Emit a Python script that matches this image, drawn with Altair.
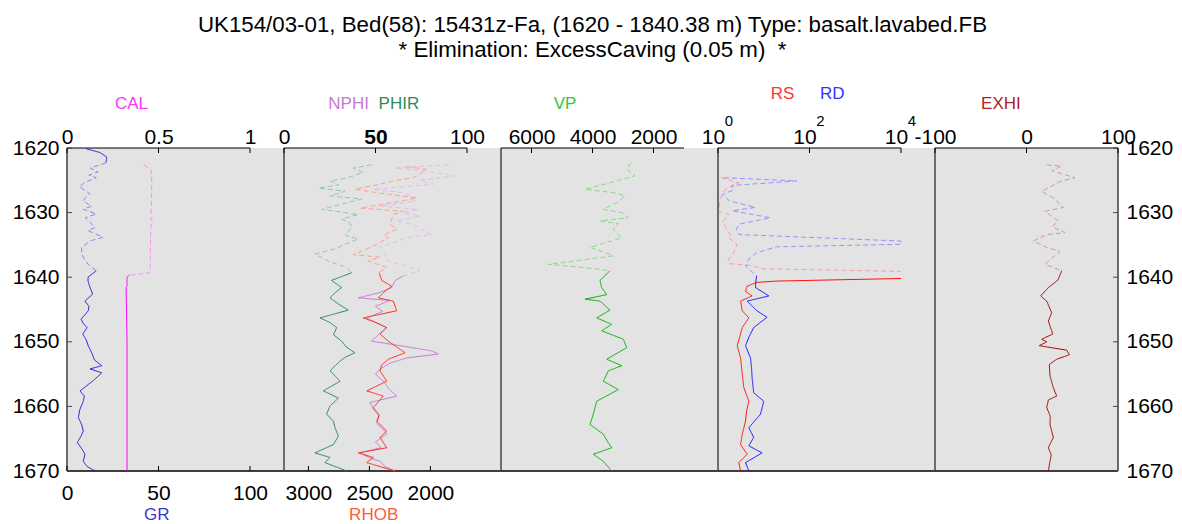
import altair as alt
import pandas as pd

TITLE = [
    "UK154/03-01, Bed(58): 15431z-Fa, (1620 - 1840.38 m) Type: basalt.lavabed.FB",
    "* Elimination: ExcessCaving (0.05 m) \u00a0*",
]

# Eliminated (excess caving) interval: drawn dashed and faded
ELIM_TOP = 1622.5
ELIM_BASE = 1639.9

# ---- log curves: depth (m) and values; None marks a gap in a curve ----
GR_DEPTH = [
    1620.1, 1620.7, 1621.4, 1622.3, 1623.1, 1623.7, 1624.2, 1624.6, 1625.3, 1626.0,
    1626.6, 1627.1, 1627.7, 1628.2, 1629.0, 1629.5, 1630.2, 1630.8, 1631.3, 1632.3,
    1632.8, 1633.8, 1634.4, 1635.4, 1636.4, 1637.2, 1638.0, 1639.0, 1640.0, 1640.6,
    1641.6, 1642.6, 1643.7, 1644.5, 1645.2, 1646.5, 1647.2, 1647.8, 1648.8, 1649.7,
    1650.6, 1651.7, 1652.8, 1653.7, 1654.2, 1654.8, 1656.0, 1657.6, 1658.4, 1659.2,
    1660.5, 1661.7, 1662.8, 1663.8, 1664.7, 1665.6, 1666.5, 1667.4, 1668.5, 1669.3,
    1670.0,
]
GR = [
    10.4, 18.0, 21.7, 21.3, 12.6, 17.0, 12.0, 16.0, 10.0, 6.7,
    10.0, 12.6, 10.0, 8.8, 13.5, 8.8, 16.0, 10.0, 12.0, 15.3,
    11.5, 19.7, 12.6, 8.0, 8.0, 9.5, 11.5, 16.0, 11.5, 11.5,
    12.6, 14.0, 9.8, 12.0, 11.6, 7.7, 9.0, 11.0, 8.6, 10.5,
    11.6, 13.5, 15.0, 19.0, 12.6, 19.0, 14.4, 7.1, 9.5, 8.9,
    7.0, 6.2, 8.0, 8.9, 7.5, 5.6, 8.0, 9.8, 8.9, 11.0,
    15.3,
]

CAL_DEPTH = [1622.6, 1623.4, 1625.0, 1628.0, 1631.0, 1631.5, 1632.0, 1635.0,
             1639.3, 1639.7, 1640.0, 1641.4, 1641.6, 1650.0, 1660.0, 1670.0]
CAL = [0.42, 0.46, 0.463, 0.462, 0.458, 0.47, 0.458, 0.456,
       0.454, 0.34, 0.328, 0.328, 0.323, 0.328, 0.328, 0.328]

NPHI_DEPTH = [
    1622.6, 1623.1, 1623.6, 1624.3, 1625.0, 1625.6, 1626.4, 1626.9, 1627.4, 1628.2,
    1629.0, 1629.5, 1630.0, 1630.5, 1631.3, 1631.9, 1632.6, 1633.4, 1633.9, 1634.6,
    1635.4, 1636.3, 1637.5, 1638.2, 1639.0, 1639.8, 1640.5, 1641.6, 1642.4, 1643.2,
    1643.6, 1644.5, 1645.3, 1646.3, 1647.0, 1647.8, 1648.8, 1649.9, 1650.6, 1651.4,
    1651.9, 1652.5, 1653.3, 1654.2, 1655.0, 1656.1, 1657.2, 1658.4, 1659.4, 1660.5,
    1661.5, 1662.6, 1663.5, 1664.3, 1665.5, 1666.4, 1667.2, 1668.0, 1668.5, 1669.3,
    1670.0,
]
NPHI = [
    89.8, 60.7, 78.0, 93.4, 74.3, 81.6, 48.8, 64.3, 68.9, 72.0,
    52.5, 73.4, 65.2, 74.3, 61.6, 70.7, 75.0, 80.7, 67.0, 60.0,
    52.5, 55.0, 57.0, 66.0, 74.3, 65.2, 60.7, 58.9, 52.0, 40.6,
    57.9, 50.0, 54.0, 45.2, 50.0, 56.1, 52.0, 47.9, 63.4, 80.7,
    84.3, 67.0, 58.0, 52.5, 50.0, 54.3, 57.0, 61.6, 47.0, 49.0,
    52.0, 50.6, 54.0, 56.1, 50.0, 53.0, 41.5, 47.0, 52.5, 55.0,
    60.7,
]

PHIR_DEPTH = [
    1622.6, 1623.1, 1623.8, 1624.5, 1625.1, 1625.7, 1626.2, 1626.7, 1627.4, 1627.9,
    1628.7, 1629.5, 1630.3, 1631.0, 1631.6, 1632.3, 1633.5, 1634.1, 1634.9, 1635.6,
    1636.4, 1637.5, 1638.5, 1639.3, 1640.5, 1641.6, 1642.4, 1643.2, 1644.2, 1645.1,
    1646.3, 1647.0, 1647.8, 1648.9, 1649.9, 1650.8, 1651.7, 1652.3, 1653.0, 1654.5,
    1655.3, 1656.1, 1657.6, 1658.7, 1660.0, 1661.2, 1662.3, 1663.3, 1664.6, 1665.9,
    1667.2, 1667.9, 1668.7, 1670.0,
]
PHIR = [
    47.9, 37.9, 43.3, 36.0, 25.1, 30.0, 18.8, 33.3, 25.1, 42.5,
    31.5, 20.6, 40.6, 31.5, 36.0, 37.0, 33.3, 40.6, 33.3, 28.0,
    16.9, 24.2, 34.3, 37.0, 26.0, 31.5, 28.0, 25.1, 30.0, 35.1,
    19.7, 25.0, 28.8, 27.0, 31.5, 34.0, 38.8, 34.0, 30.6, 25.1,
    28.0, 30.6, 21.5, 29.7, 25.0, 23.3, 27.0, 27.9, 29.7, 27.0,
    16.9, 25.1, 22.4, 34.3,
]

RHOB_DEPTH = [
    1622.9, 1623.3, 1624.0, 1624.6, 1625.1, 1625.7, 1626.4, 1627.2, 1627.7, 1628.2,
    1629.3, 1629.8, 1630.3, 1631.8, 1632.6, 1633.4, 1633.9, 1634.7, 1635.4, 1636.5,
    1636.9, 1637.5, 1638.5, 1639.3, 1640.5, 1641.4, 1642.3, 1643.2, 1643.7, 1645.2,
    1646.3, 1647.0, 1647.8, 1648.8, 1649.9, 1651.7, 1652.7, 1653.6, 1654.5, 1656.1,
    1657.6, 1658.4, 1660.2, 1661.3, 1662.3, 1663.8, 1664.8, 1666.4, 1667.2, 1667.9,
    1668.7, 1670.0,
]
RHOB = [
    2194, 2030, 2085, 2140, 2304, 2440, 2618, 2331, 2112, 2235,
    2577, 2222, 2304, 2331, 2276, 2380, 2345, 2420, 2495, 2632,
    2413, 2509, 2358, 2420, 2399, 2317, 2380, 2427, 2304, 2276,
    2550, 2450, 2358, 2413, 2345, 2208, 2345, 2400, 2413, 2358,
    2522, 2386, 2468, 2420, 2440, 2358, 2413, 2358, 2591, 2468,
    2522, 2290,
]

VP_DEPTH = [
    1622.3, 1623.3, 1624.3, 1625.1, 1626.4, 1626.9, 1627.4, 1628.5, 1629.5, 1630.0,
    1630.8, 1631.3, 1631.7, 1632.6, 1633.9, 1635.4, 1636.0, 1636.7, 1638.0, 1638.5,
    1639.0, 1640.5, 1641.6, 1642.7, 1643.4, 1643.7, 1645.1, 1646.3, 1647.3, 1648.3,
    1649.6, 1650.9, 1652.7, 1653.7, 1654.5, 1656.1, 1657.4, 1659.2, 1661.2, 1662.8,
    1664.3, 1665.5, 1666.4, 1667.4, 1668.5, 1670.0,
]
VP = [
    2738, 2878, 2606, 3206, 4246, 3318, 2934, 3206, 3646, 3042,
    2826, 3754, 3154, 3318, 3042, 4082, 3698, 3318, 5449, 4301,
    3426, 3754, 3700, 3534, 4246, 3754, 3426, 3862, 3370, 3698,
    2990, 2878, 3534, 3042, 3482, 3646, 3154, 3862, 3974, 4082,
    3646, 3500, 3370, 3974, 3646, 3370,
]

RS_DEPTH = [
    1624.6, 1625.4, 1626.2, 1626.9, 1628.3, 1629.8, 1630.3, 1631.3, 1632.3, 1633.6,
    1633.9, 1634.9, 1636.2, 1637.2, 1637.9, 1638.2, 1638.7, 1639.1, 1639.6, 1640.2,
    1640.6, 1640.8, 1641.4, 1642.2, 1642.9, 1643.7, 1645.2, 1646.3, 1647.8, 1649.2,
    1650.6, 1652.5, 1655.0, 1657.1, 1659.2, 1660.8, 1662.3, 1664.3, 1665.9, 1667.4,
    1668.7, 1670.0,
]
RS = [
    1.15, 2.86, 1.6, 1.24, 1.1, 1.05, 1.74, 1.3, 1.47, 1.9,
    1.74, 2.6, 2.2, 1.7, 1.8, 5.1, 10.0, 10000, None, 10000,
    19.0, 7.0, 4.3, 4.0, 5.57, 3.11, 3.39, 4.72, 3.39, 3.0,
    2.63, 3.11, 3.39, 3.67, 4.72, 4.2, 4.0, 3.39, 3.11, 4.34,
    2.86, 3.11,
]

RD_DEPTH = [
    1624.6, 1625.1, 1625.8, 1626.5, 1627.2, 1628.2, 1629.2, 1629.7, 1630.8, 1631.8,
    1632.7, 1633.4, 1634.4, 1634.9, 1635.3, 1636.2, 1637.2, 1638.3, 1639.8, 1640.7,
    1641.6, 1642.9, 1643.7, 1645.2, 1646.2, 1647.8, 1649.2, 1650.6, 1652.5, 1654.0,
    1655.6, 1657.9, 1659.2, 1661.2, 1663.3, 1664.8, 1666.1, 1667.2, 1668.7, 1670.0,
]
RD = [
    1.35, 52.5, 2.0, 2.2, 1.24, 1.8, 6.6, 2.04, 14.0, 2.86,
    2.5, 2.9, 10000, 10000, 19.0, 7.0, 4.7, 4.0, 7.0, 6.7,
    6.61, 12.9, 4.34, 7.1, 11.8, 6.03, 4.8, 4.0, 5.13, 5.4,
    5.57, 6.03, 10.0, 8.5, 4.72, 6.03, 4.72, 9.2, 4.0, 4.72,
]

EXHI_DEPTH = [
    1622.6, 1622.8, 1623.5, 1624.6, 1625.2, 1626.7, 1627.8, 1629.2, 1629.8, 1631.3,
    1632.2, 1633.1, 1633.4, 1634.4, 1635.4, 1636.0, 1637.0, 1638.0, 1639.0, 1640.3,
    1640.6, 1641.6, 1642.9, 1643.7, 1645.5, 1646.8, 1648.8, 1649.6, 1650.0, 1650.6,
    1651.3, 1652.0, 1652.7, 1653.5, 1655.3, 1657.1, 1658.4, 1659.0, 1660.2, 1661.5,
    1662.8, 1664.8, 1666.4, 1667.5, 1668.5, 1670.0,
]
EXHI = [
    22.1, 38.5, 27.5, 53.0, 36.6, 16.6, 30.0, 40.2, 20.2, 34.8,
    28.0, 42.1, 22.1, 7.5, 22.1, 36.6, 28.0, 20.2, 38.5, 34.8,
    33.0, 23.9, 15.5, 22.1, 27.5, 23.9, 28.7, 16.6, 22.1, 14.0,
    44.0, 46.9, 33.0, 24.9, 25.7, 29.3, 33.0, 23.9, 22.1, 26.0,
    25.7, 29.3, 23.9, 27.0, 25.7, 23.9,
]

# ---- track axes ----
DEPTH_TICKS = [1620, 1630, 1640, 1650, 1660, 1670]
CAL_TICKS = [0, 0.5, 1]
GR_TICKS = [0, 50, 100]
POR_TICKS = [0, 50, 100]
RHOB_TICKS = [3000, 2500, 2000]
VP_TICKS = [6000, 4000, 2000]
RES_TICKS = [1, 100, 10000]
RES_EXPONENTS = ["0", "2", "4"]
EXHI_TICKS = [-100, 0, 100]

# (solid colour, faded colour) per curve
COLORS = {
    "GR": ("#1c1cd4", "#8a8ae6"),
    "CAL": ("#ff00ff", "#ff8cff"),
    "NPHI": ("#c47ad2", "#e0bde9"),
    "PHIR": ("#23875a", "#93c8ac"),
    "RHOB": ("#ff2a12", "#ffa08c"),
    "VP": ("#00b400", "#88da88"),
    "RS": ("#ff1010", "#ff9c9c"),
    "RD": ("#1010ff", "#9494ff"),
    "EXHI": ("#a00000", "#d49a9a"),
}

FONT = "Liberation Sans"
H = 323          # track height (px)
W = 217          # track pitch (px)
W_LAST = 183     # last track width
SPAN = W / W_LAST  # track width relative to labelled axis length
GREY_LINE = "#6b6b6b"
TICK_FS = 21


def rows_for(name, depths, values):
    rows = []
    run = 0
    prev = None
    for d, v in zip(depths, values):
        if v is None:          # gap: start a fresh, unconnected run
            run += 1
            prev = None
            continue
        cls = "elim" if ELIM_TOP < d < ELIM_BASE else "main"
        if prev is not None and cls != prev[2]:
            run += 1
            rows.append(dict(curve=name, depth=prev[0], value=prev[1], cls=cls,
                             run=f"{name}{run}", key=f"{name}:{cls}"))
        rows.append(dict(curve=name, depth=d, value=v, cls=cls,
                         run=f"{name}{run}", key=f"{name}:{cls}"))
        prev = (d, v, cls)
    return rows


rows = []
for nm, dd, vv in [("GR", GR_DEPTH, GR), ("CAL", CAL_DEPTH, CAL),
                   ("NPHI", NPHI_DEPTH, NPHI), ("PHIR", PHIR_DEPTH, PHIR),
                   ("RHOB", RHOB_DEPTH, RHOB), ("VP", VP_DEPTH, VP),
                   ("RS", RS_DEPTH, RS), ("RD", RD_DEPTH, RD),
                   ("EXHI", EXHI_DEPTH, EXHI)]:
    rows += rows_for(nm, dd, vv)
DF = pd.DataFrame(rows)

KEYS, KEY_COLORS = [], []
for nm, (solid, faded) in COLORS.items():
    KEYS += [f"{nm}:main", f"{nm}:elim"]
    KEY_COLORS += [solid, faded]
COLOR_SCALE = alt.Scale(domain=KEYS, range=KEY_COLORS)
DASH_SCALE = alt.Scale(domain=["elim", "main"], range=[[5, 3], [1, 0]])

YS = alt.Scale(domain=[1620, 1670], reverse=True, nice=False, zero=False)


def lin(lo, hi, reverse=False):
    return alt.Scale(domain=[lo, hi], nice=False, zero=False, reverse=reverse)


CAL_S = lin(0, 1 * SPAN)
GR_S = lin(0, 100 * SPAN)
POR_S = lin(0, 100 * SPAN)
RHOB_S = lin(3200 - 1500 * SPAN, 3200, reverse=True)
VP_S = lin(7000 - 6000 * SPAN, 7000, reverse=True)
RES_S = alt.Scale(type="log", domain=[1, 10 ** (4 * SPAN)], nice=False)
EXHI_S = lin(-100, 100)


def x_axis(orient, values, pad, **extra):
    kw = dict(orient=orient, values=values, ticks=False, domain=False, grid=False,
              labelFontSize=TICK_FS, labelFont=FONT, labelColor="black",
              labelPadding=pad, labelFlush=False, labelOverlap=False, title=None,
              labelExpr="'' + datum.value")
    kw.update(extra)
    return alt.Axis(**kw)


def y_axis(orient):
    return alt.Axis(orient=orient, values=DEPTH_TICKS, ticks=False, domain=False,
                    grid=False, labelFontSize=TICK_FS, labelFont=FONT,
                    labelColor="black", labelPadding=8, labelFlush=False,
                    labelOverlap=False, title=None, labelExpr="'' + datum.value")


ONE = pd.DataFrame({"k": [0]})


def curve(name, xs, yax):
    return alt.Chart(DF).transform_filter(alt.datum.curve == name).mark_line(
        strokeWidth=1).encode(
        x=alt.X("value:Q", scale=xs, axis=None),
        y=alt.Y("depth:Q", scale=YS, axis=yax),
        color=alt.Color("key:N", scale=COLOR_SCALE, legend=None),
        strokeDash=alt.StrokeDash("cls:N", scale=DASH_SCALE, legend=None),
        detail="run:N",
        order="depth:Q",
    )


def top_ticks(values, xs, axis):
    return alt.Chart(pd.DataFrame({"v": values})).mark_rule(
        color="black", strokeWidth=1).encode(
        x=alt.X("v:Q", scale=xs, axis=axis), y=alt.value(0), y2=alt.value(5))


def bottom_ticks(values, xs, axis):
    return alt.Chart(pd.DataFrame({"v": values})).mark_rule(
        color="black", strokeWidth=1).encode(
        x=alt.X("v:Q", scale=xs, axis=axis), y=alt.value(H - 5), y2=alt.value(H))


def top_line(lo, hi, xs):
    return alt.Chart(ONE).mark_rule(color="black", strokeWidth=1.2).encode(
        x=alt.X(datum=lo, scale=xs, axis=None), x2=alt.X2(datum=hi), y=alt.value(0))


def frame(width, right=False):
    layers = [
        alt.Chart(ONE).mark_rule(color=GREY_LINE, strokeWidth=2).encode(
            x=alt.value(0), y=alt.value(0), y2=alt.value(H)),
        alt.Chart(ONE).mark_rule(color="black", strokeWidth=1.5).encode(
            x=alt.value(0), x2=alt.value(width), y=alt.value(H)),
    ]
    if right:
        layers.append(alt.Chart(ONE).mark_rule(color=GREY_LINE, strokeWidth=2).encode(
            x=alt.value(width), y=alt.value(0), y2=alt.value(H)))
    return layers


def depth_ticks(side, width, yax):
    x0, x1 = (0, 5) if side == "left" else (width - 5, width)
    return alt.Chart(pd.DataFrame({"d": DEPTH_TICKS})).mark_rule(
        color="#444444", strokeWidth=1).encode(
        y=alt.Y("d:Q", scale=YS, axis=yax), x=alt.value(x0), x2=alt.value(x1))


def name_label(text, color, xs, xv, yv):
    return alt.Chart(ONE).mark_text(text=text, color=color, font=FONT, fontSize=17,
                                    align="center", baseline="middle").encode(
        x=alt.X(datum=xv, scale=xs, axis=None), y=alt.value(yv))


def track(layers, width):
    return alt.layer(*layers).resolve_scale(x="independent").properties(
        width=width, height=H)


# Track 1: GR (bottom) and CAL (top)
ya = y_axis("left")
t1 = track(frame(W) + [
    top_line(0, 1, CAL_S),
    top_ticks(CAL_TICKS, CAL_S, x_axis("top", CAL_TICKS, 1)),
    bottom_ticks(GR_TICKS, GR_S, x_axis("bottom", GR_TICKS, 11)),
    depth_ticks("left", W, ya),
    curve("GR", GR_S, ya),
    curve("CAL", CAL_S, ya),
    name_label("CAL", "#ff33ff", CAL_S, 0.352, -44),
    name_label("GR", "#3838d0", GR_S, 49, H + 44),
], W)

# Track 2: NPHI, PHIR (top) and RHOB (bottom)
bold50 = {"condition": {"test": "datum.value == 50", "value": "bold"}, "value": "normal"}
t2 = track(frame(W) + [
    top_line(0, 100, POR_S),
    top_ticks(POR_TICKS, POR_S, x_axis("top", POR_TICKS, 1, labelFontWeight=bold50)),
    bottom_ticks(RHOB_TICKS, RHOB_S, x_axis("bottom", RHOB_TICKS, 11)),
    curve("NPHI", POR_S, None),
    curve("PHIR", POR_S, None),
    curve("RHOB", RHOB_S, None),
    name_label("NPHI", "#c47ad2", POR_S, 35.3, -44),
    name_label("PHIR", "#2e8b57", POR_S, 62.8, -44),
    name_label("RHOB", "#ff5a3c", RHOB_S, 2465, H + 44),
], W)

# Track 3: VP
t3 = track(frame(W) + [
    top_line(1000, 7000, VP_S),
    top_ticks(VP_TICKS, VP_S, x_axis("top", VP_TICKS, 1)),
    curve("VP", VP_S, None),
    name_label("VP", "#33c633", VP_S, 4900, -44),
], W)

# Track 4: resistivities on a log scale
t4 = track(frame(W) + [
    top_line(1, 10000, RES_S),
    top_ticks(RES_TICKS, RES_S, x_axis("top", RES_TICKS, 1, labelExpr="'10'",
                                       labelOffset=-5)),
    alt.Chart(pd.DataFrame({"v": RES_TICKS, "t": RES_EXPONENTS})).mark_text(
        font=FONT, fontSize=15, color="black", dx=11, align="center",
        baseline="middle").encode(
        x=alt.X("v:Q", scale=RES_S, axis=None), y=alt.value(-27), text="t:N"),
    curve("RS", RES_S, None),
    curve("RD", RES_S, None),
    name_label("RS", "#ff3333", RES_S, 25.9, -54),
    name_label("RD", "#3333ff", RES_S, 316, -54),
], W)

# Track 5: EXHI with depth axis on the right
yr = y_axis("right")
t5 = track(frame(W_LAST, right=True) + [
    top_line(-100, 100, EXHI_S),
    top_ticks(EXHI_TICKS, EXHI_S, x_axis("top", EXHI_TICKS, 1)),
    depth_ticks("right", W_LAST, yr),
    curve("EXHI", EXHI_S, yr),
    name_label("EXHI", "#b02020", EXHI_S, -28, -44),
], W_LAST)

chart = alt.hconcat(t1, t2, t3, t4, t5, spacing=0, bounds="flush").resolve_scale(
    x="independent", y="independent"
).properties(
    title=alt.TitleParams(text=TITLE, fontSize=22.3, font=FONT, fontWeight="normal",
                          color="black", anchor="middle", offset=24, lineHeight=25),
    padding={"left": 12, "top": 13, "right": 4, "bottom": 0},
    background="white",
).configure_view(fill="#e3e3e3", stroke=None)

chart.save("out.html", embed_options={"renderer": "svg", "actions": False})
